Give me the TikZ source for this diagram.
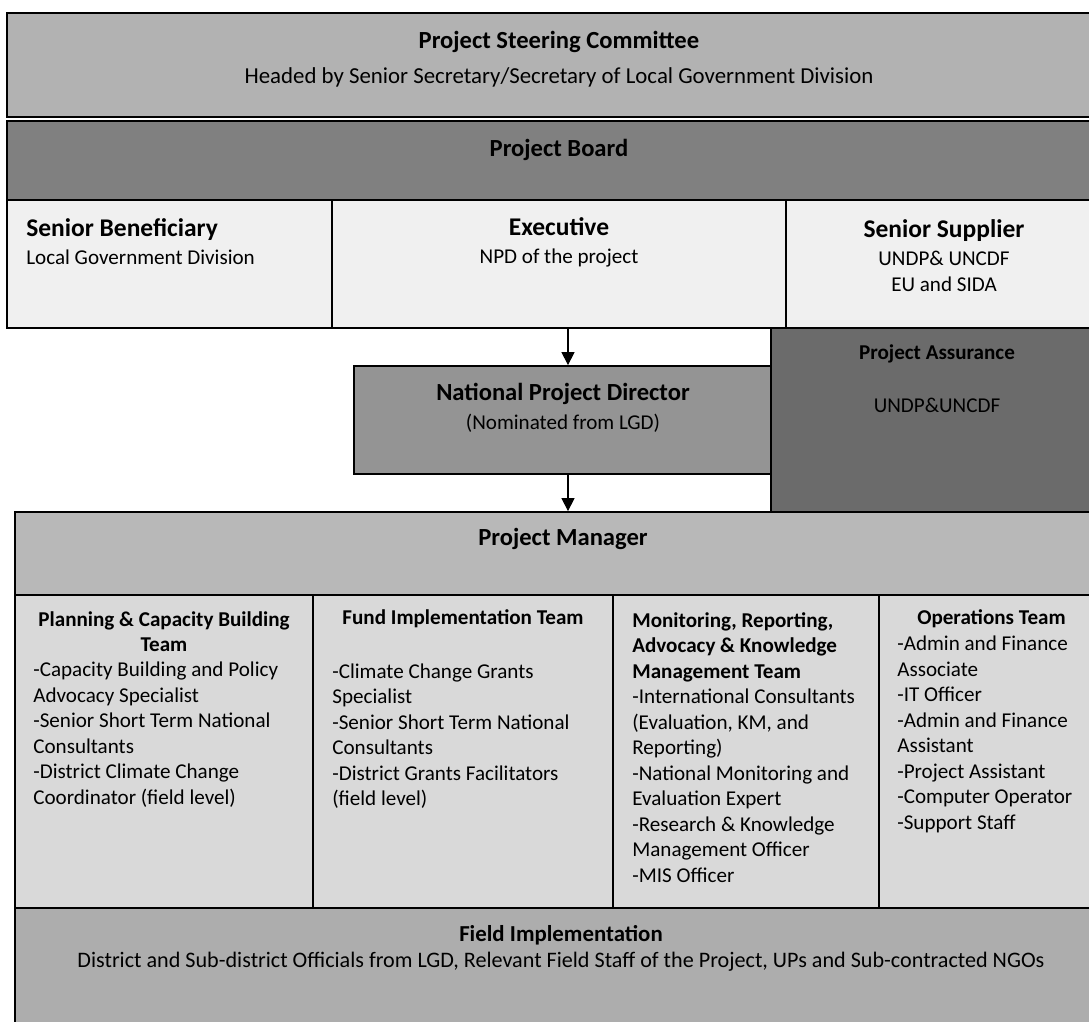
\documentclass[tikz,border=0pt,12pt]{standalone}
\usepackage{fontspec}
\setmainfont{Carlito}
\usetikzlibrary{arrows.meta,positioning}

\begin{document}
\begin{tikzpicture}
\tikzset{el/.style={draw, line width=1pt, rectangle, inner sep=0pt},
 txt/.style={inner sep=0pt, align=center},
 lst/.style={inner sep=0pt, align=left, anchor=west},
 arr/.style={-{Triangle[length=2.6mm,width=2.6mm]}, line width=.6pt}}

\useasboundingbox (0,0) rectangle (21.78,-20.44);

% Committee and board
\node[el, fill=black!30, minimum width=22.08cm, minimum height=2.08cm] (psc) at (11.18,-1.30) {};
\node[el, fill=black!50, minimum width=22.08cm, minimum height=1.58cm] (pb) at (11.18,-3.21) {};
\node[txt] (psct) at (11.18,-1.19)
{{\fontsize{14}{17}\selectfont\bfseries Project Steering Committee}\\[5.4pt]
{\fontsize{13}{15}\selectfont Headed by Senior Secretary/Secretary of Local Government Division}};
\node[txt, font=\fontsize{14}{17}\selectfont\bfseries] (pbt) at (11.18,-3.00) {Project Board};

% Board members
\node[el, fill=black!6, minimum width=6.50cm, minimum height=2.56cm] (sb) at (3.39,-5.28) {};
\node[el, fill=black!6, minimum width=9.08cm, minimum height=2.56cm] (ex) at (11.18,-5.28) {};
\node[el, fill=black!6, minimum width=6.50cm, minimum height=2.56cm] (ss) at (18.97,-5.28) {};
\node[lst] (sbt) at (0.52,-4.84)
{{\fontsize{14.5}{17}\selectfont\bfseries Senior Beneficiary}\\[1.4pt]Local Government Division};
\node[txt] (ext) at (11.18,-4.84)
{{\fontsize{14.5}{17}\selectfont\bfseries Executive}\\[1.4pt]NPD of the project};
\node[txt] (sst) at (18.88,-5.11)
{{\fontsize{14.5}{17}\selectfont\bfseries Senior Supplier}\\[1.4pt]UNDP\& UNCDF\\[.5pt]EU and SIDA};

% Director and assurance
\node[el, fill=black!58, minimum width=6.80cm, minimum height=3.70cm] (pa) at (18.82,-8.41) {};
\node[el, fill=black!42, minimum width=8.34cm, minimum height=2.16cm] (npd) at (11.25,-8.40) {};
\node[txt] (pat) at (18.74,-7.57)
{\textbf{Project Assurance}\\[15.4pt]UNDP\&UNCDF};
\node[txt] (npdt) at (11.26,-8.15)
{{\fontsize{14}{17}\selectfont\bfseries National Project Director}\\[1.8pt](Nominated from LGD)};

% Manager
\node[el, fill=black!28, minimum width=21.92cm, minimum height=1.66cm] (pm) at (11.26,-11.07) {};
\node[txt, font=\fontsize{14}{17}\selectfont\bfseries] (pmt) at (11.26,-10.78) {Project Manager};

% Teams
\node[el, fill=black!15, minimum width=5.96cm, minimum height=6.26cm] (plan) at (3.28,-15.03) {};
\node[el, fill=black!15, minimum width=6.00cm, minimum height=6.26cm] (fund) at (9.26,-15.03) {};
\node[el, fill=black!15, minimum width=5.32cm, minimum height=6.26cm] (mon) at (14.92,-15.03) {};
\node[el, fill=black!15, minimum width=4.64cm, minimum height=6.26cm] (ops) at (19.90,-15.03) {};

\node[txt, font=\bfseries] (plant) at (3.28,-12.63) {Planning \& Capacity Building\\Team};
\node[lst] (planl) at (0.66,-14.69)
{-Capacity Building and Policy\\Advocacy Specialist\\-Senior Short Term National\\Consultants\\
-District Climate Change\\Coordinator (field level)};

\node[txt, font=\bfseries] (fundt) at (9.26,-12.38) {Fund Implementation Team};
\node[lst] (fundl) at (6.64,-14.72)
{-Climate Change Grants\\Specialist\\-Senior Short Term National\\Consultants\\
-District Grants Facilitators\\(field level)};

\node[lst] (monl) at (12.64,-14.95)
{\textbf{Monitoring, Reporting,}\\\textbf{Advocacy \& Knowledge}\\\textbf{Management Team}\\
-International Consultants\\(Evaluation, KM, and\\Reporting)\\-National Monitoring and\\
Evaluation Expert\\-Research \& Knowledge\\Management Officer\\-MIS Officer};

\node[txt, font=\bfseries] (opst) at (19.83,-12.38) {Operations Team};
\node[lst] (opsl) at (17.94,-14.69)
{-Admin and Finance\\Associate\\-IT Officer\\-Admin and Finance\\Assistant\\
-Project Assistant\\-Computer Operator\\-Support Staff};

% Field level
\node[el, fill=black!32, minimum width=21.92cm, minimum height=2.54cm] (fi) at (11.26,-19.43) {};
\node[txt] (fit) at (11.22,-18.97)
{{\fontsize{13}{15}\selectfont\bfseries Field Implementation}\\[.7pt]
{\fontsize{12.6}{15}\selectfont District and Sub-district Officials from LGD, Relevant Field Staff of the Project, UPs and Sub-contracted NGOs}};

% Connections
\coordinate (ax) at (11.36,0);
\draw[arr] (ex.south -| ax) -- (npd.north -| ax);
\draw[arr] (npd.south -| ax) -- (pm.north -| ax);

\end{tikzpicture}
\end{document}
